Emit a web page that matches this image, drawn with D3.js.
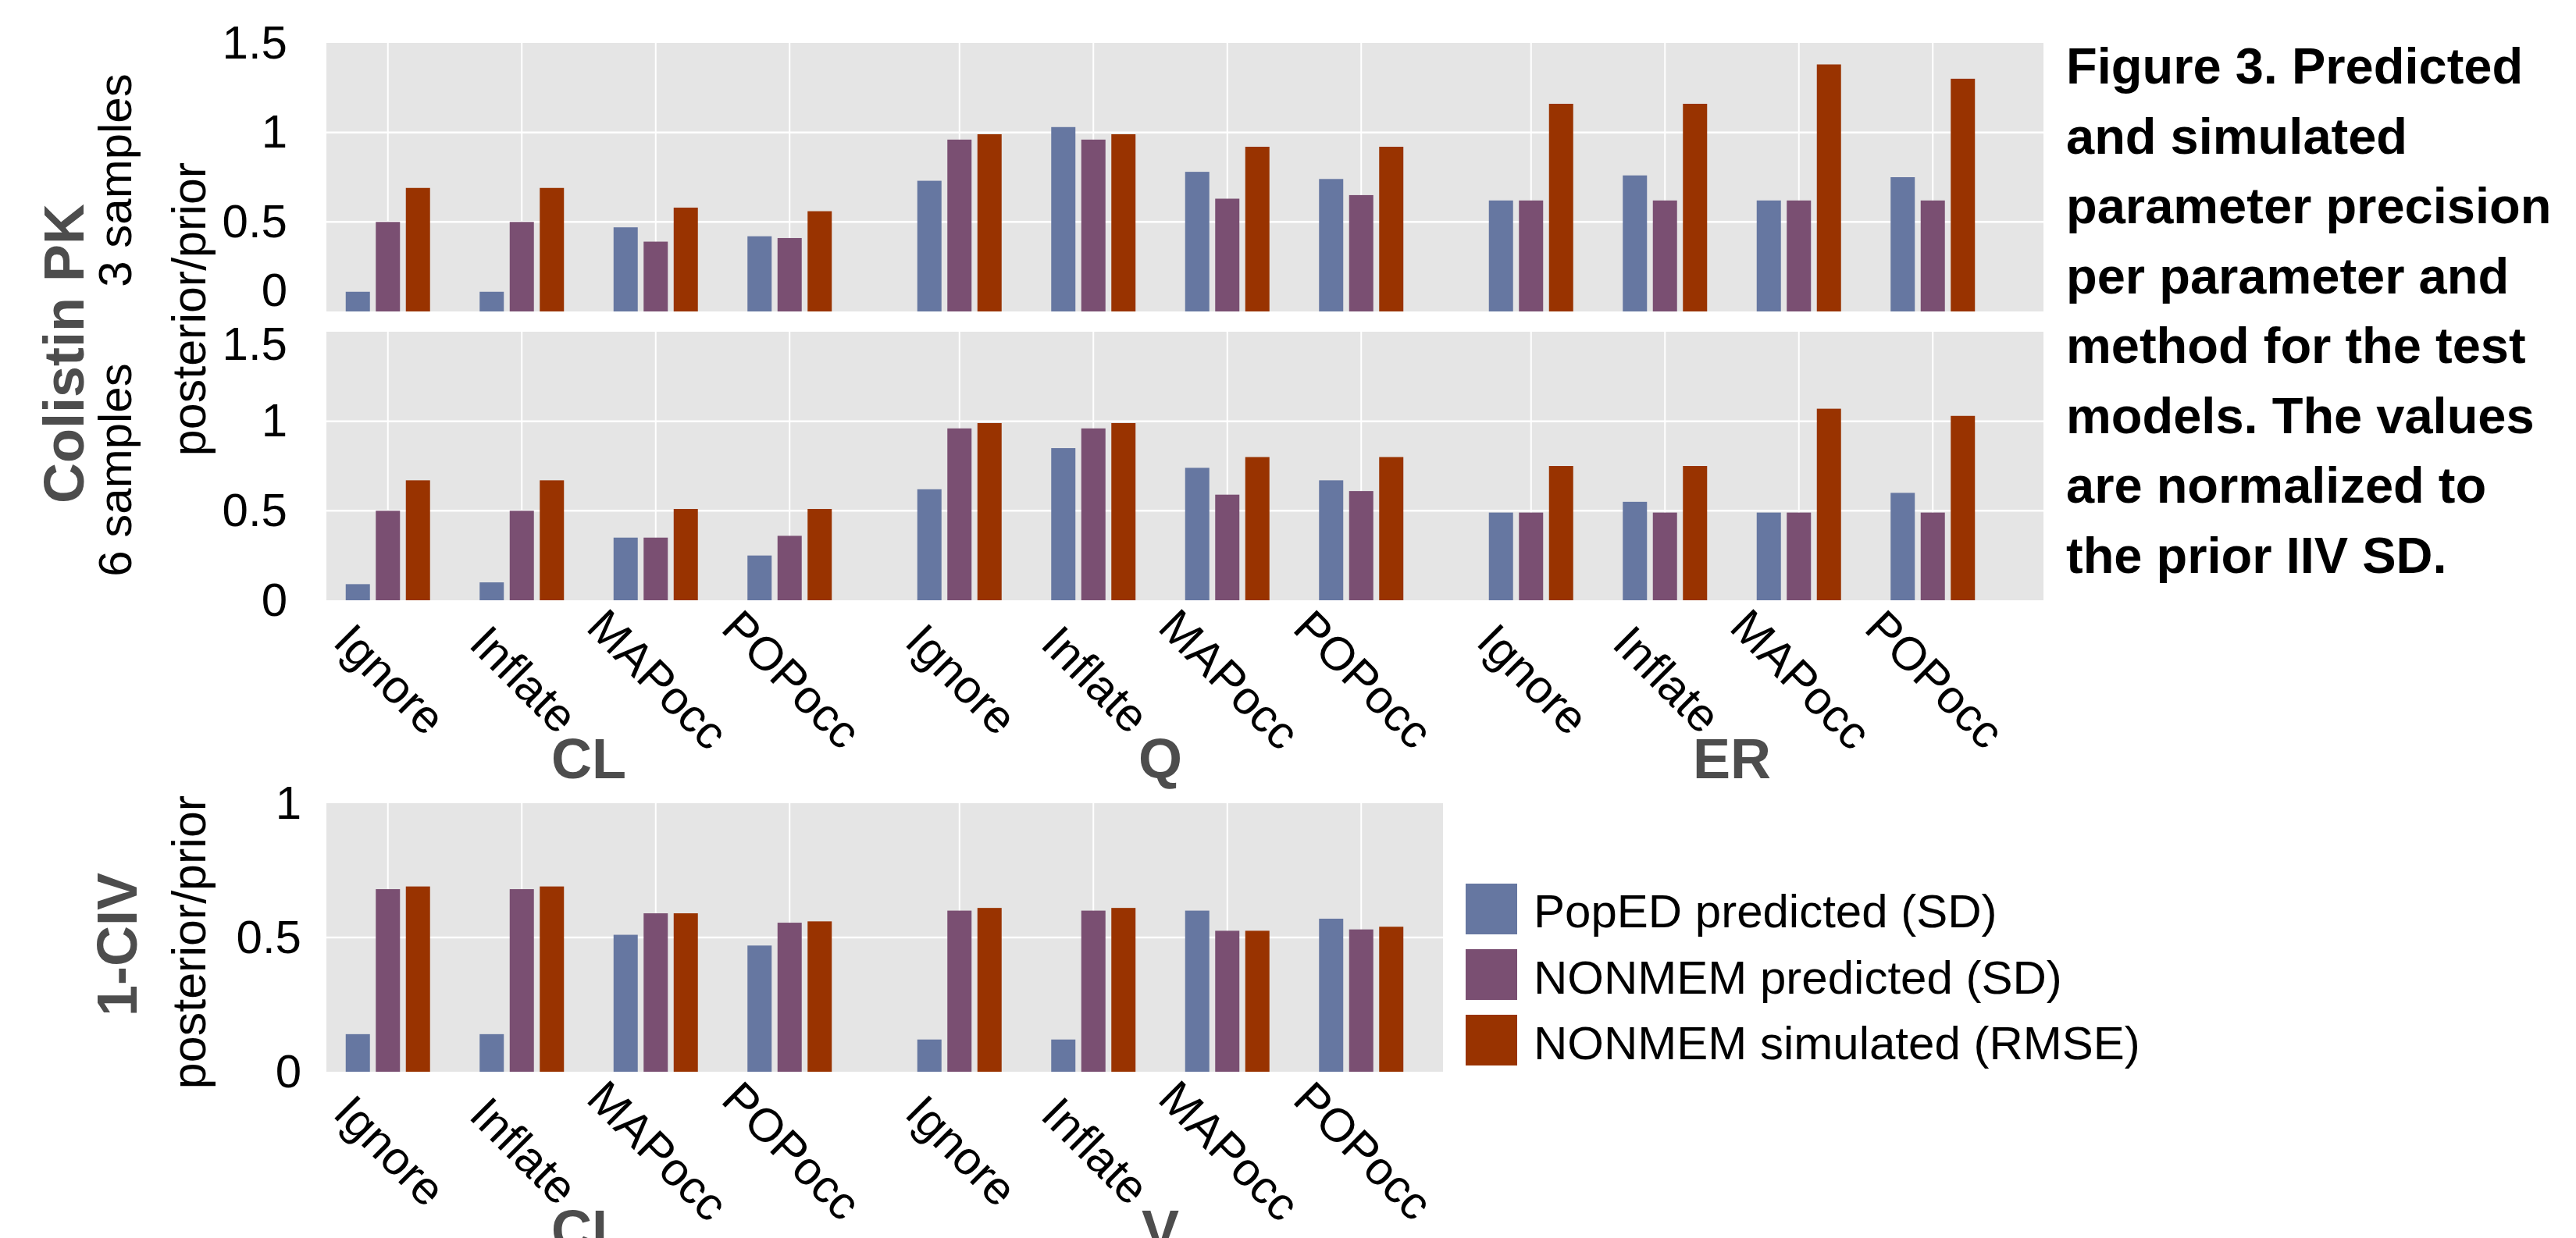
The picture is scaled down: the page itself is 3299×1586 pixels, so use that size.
<!DOCTYPE html>
<html>
<head>
<meta charset="utf-8">
<script src="https://cdn.jsdelivr.net/npm/d3@7"></script>
<style>
  html, body { margin: 0; padding: 0; background: #ffffff; }
  svg { display: block; }
  text { font-family: "Liberation Sans", Arial, sans-serif; }
</style>
</head>
<body>
<svg id="chart" width="3299" height="1586"></svg>
<script>
// ---------------- data ----------------
const methods = ["Ignore", "Inflate", "MAPocc", "POPocc"];
const groupsPK = ["CL", "Q", "ER"];
const groupsCIV = ["CL", "V"];
const seriesNames = ["PopED predicted (SD)", "NONMEM predicted (SD)", "NONMEM simulated (RMSE)"];
const seriesColors = ["#6677a1", "#7a4f72", "#993300"];

// Colistin PK, 3 samples (order: CL x4 methods, Q x4, ER x4)
const pk3PopED   = [0.11, 0.11, 0.47, 0.42, 0.73, 1.03, 0.78, 0.74, 0.62, 0.76, 0.62, 0.75];
const pk3NMPred  = [0.50, 0.50, 0.39, 0.41, 0.96, 0.96, 0.63, 0.65, 0.62, 0.62, 0.62, 0.62];
const pk3NMSim   = [0.69, 0.69, 0.58, 0.56, 0.99, 0.99, 0.92, 0.92, 1.16, 1.16, 1.38, 1.30];

// Colistin PK, 6 samples
const pk6PopED   = [0.09, 0.10, 0.35, 0.25, 0.62, 0.85, 0.74, 0.67, 0.49, 0.55, 0.49, 0.60];
const pk6NMPred  = [0.50, 0.50, 0.35, 0.36, 0.96, 0.96, 0.59, 0.61, 0.49, 0.49, 0.49, 0.49];
const pk6NMSim   = [0.67, 0.67, 0.51, 0.51, 0.99, 0.99, 0.80, 0.80, 0.75, 0.75, 1.07, 1.03];

// 1-CIV (order: CL x4 methods, V x4)
const civPopED   = [0.14, 0.14, 0.51, 0.47, 0.12, 0.12, 0.60, 0.57];
const civNMPred  = [0.68, 0.68, 0.59, 0.555, 0.60, 0.60, 0.525, 0.53];
const civNMSim   = [0.69, 0.69, 0.59, 0.56, 0.61, 0.61, 0.525, 0.54];

const yTicksPK  = [0, 0.5, 1, 1.5];
const yTicksCIV = [0, 0.5, 1];
const yTickLabelsPK  = ["0", "0.5", "1", "1.5"];
const yTickLabelsCIV = ["0", "0.5", "1"];

const captionLines = ["Figure 3. Predicted", "and simulated", "parameter precision",
  "per parameter and", "method for the test", "models. The values",
  "are normalized to", "the prior IIV SD."];

// ---------------- layout ----------------
const svg = d3.select("#chart");
svg.append("rect").attr("width", 3299).attr("height", 1586).attr("fill", "#ffffff");

const FONT = 60;
const GREY = "#4d4d4d";
const panelBG = "#e5e5e5";

const groupBand = 686, groupGap = 46, xStart = 411;

function makeX(groups) {
  const n = groups.length;
  const x0 = d3.scaleBand().domain(groups)
    .range([xStart, xStart + n * groupBand + (n - 1) * groupGap])
    .paddingInner(groupGap / (groupBand + groupGap)).paddingOuter(0);
  const x1 = d3.scaleBand().domain(methods).range([0, x0.bandwidth()]).padding(0);
  const xs = d3.scaleBand().domain(seriesNames).range([-57.75, 57.75])
    .paddingInner(0.195).paddingOuter(0.0975);
  return {x0, x1, xs};
}

function buildRows(groups, arrays) {
  const rows = [];
  groups.forEach((g, gi) => {
    methods.forEach((m, mi) => {
      const idx = gi * methods.length + mi;
      seriesNames.forEach((s, si) => {
        rows.push({group: g, method: m, series: s, si, value: arrays[si][idx]});
      });
    });
  });
  return rows;
}

function drawPanel(opts) {
  const {groups, arrays, y, left, right, ticks, tickLabels, axisX, tickShift} = opts;
  const {x0, x1, xs} = makeX(groups);
  const top = y.range()[1], bottom = y.range()[0];
  const g = svg.append("g");

  g.append("rect").attr("x", left).attr("y", top)
    .attr("width", right - left).attr("height", bottom - top).attr("fill", panelBG);

  // horizontal grid
  g.selectAll("line.hg").data(ticks.filter(t => t > y.domain()[0] && t < y.domain()[1]))
    .enter().append("line")
    .attr("x1", left).attr("x2", right)
    .attr("y1", d => y(d)).attr("y2", d => y(d))
    .attr("stroke", "#ffffff").attr("stroke-width", 2.5);

  // vertical grid
  const cats = [];
  groups.forEach(gr => methods.forEach(m => cats.push({group: gr, method: m})));
  const cx = d => x0(d.group) + x1(d.method) + x1.bandwidth() / 2;
  g.selectAll("line.vg").data(cats).enter().append("line")
    .attr("x1", cx).attr("x2", cx).attr("y1", top).attr("y2", bottom)
    .attr("stroke", "#ffffff").attr("stroke-width", 2);

  // bars
  const rows = buildRows(groups, arrays);
  g.selectAll("rect.bar").data(rows).enter().append("rect")
    .attr("x", d => cx(d) + xs(d.series))
    .attr("width", xs.bandwidth())
    .attr("y", d => y(d.value))
    .attr("height", d => y(0) - y(d.value))
    .attr("fill", d => seriesColors[d.si]);

  // y axis
  const ax = d3.axisLeft(y).tickValues(ticks).tickSize(0).tickPadding(0)
    .tickFormat((d, i) => tickLabels[i]);
  const axg = svg.append("g").attr("transform", `translate(${axisX},0)`).call(ax);
  axg.select(".domain").remove();
  axg.selectAll("text").attr("font-size", FONT).attr("fill", "#000")
    .attr("font-family", '"Liberation Sans", Arial, sans-serif')
    .attr("y", d => (tickShift && tickShift[d] !== undefined) ? tickShift[d] : 0);

  return {cats, cx, x0, bottom};
}

function drawXLabels(p, groups) {
  const g = svg.append("g");
  g.selectAll("text.xl").data(p.cats).enter().append("text")
    .attr("transform", d => `translate(${p.cx(d) - 12},${p.bottom + 116}) rotate(45)`)
    .attr("text-anchor", "middle")
    .attr("font-size", FONT).attr("fill", "#000")
    .text(d => d.method);
  g.selectAll("text.gl").data(groups).enter().append("text")
    .attr("x", d => p.x0(d) + p.x0.bandwidth() / 2)
    .attr("y", p.bottom + 228)
    .attr("text-anchor", "middle")
    .attr("font-size", 72).attr("font-weight", "bold").attr("fill", GREY)
    .text(d => d);
}

// top: 3 samples
const yTop = d3.scaleLinear().domain([0, 1.5]).range([399, 55]);
drawPanel({groups: groupsPK, arrays: [pk3PopED, pk3NMPred, pk3NMSim], y: yTop,
  left: 418, right: 2617, ticks: yTicksPK, tickLabels: yTickLabelsPK, axisX: 368,
  tickShift: {0: -27}});

// middle: 6 samples
const yMid = d3.scaleLinear().domain([0, 1.5]).range([769, 425]);
const pMid = drawPanel({groups: groupsPK, arrays: [pk6PopED, pk6NMPred, pk6NMSim], y: yMid,
  left: 418, right: 2617, ticks: yTicksPK, tickLabels: yTickLabelsPK, axisX: 368,
  tickShift: {1.5: 16}});
drawXLabels(pMid, groupsPK);

// bottom: 1-CIV
const yBot = d3.scaleLinear().domain([0, 1]).range([1373, 1029]);
const pBot = drawPanel({groups: groupsCIV, arrays: [civPopED, civNMPred, civNMSim], y: yBot,
  left: 418, right: 1848, ticks: yTicksCIV, tickLabels: yTickLabelsCIV, axisX: 386});
drawXLabels(pBot, groupsCIV);

// axis titles
function vText(x, y, txt, size, weight, fill) {
  svg.append("text").attr("transform", `translate(${x},${y}) rotate(-90)`)
    .attr("text-anchor", "middle").attr("font-size", size)
    .attr("font-weight", weight).attr("fill", fill).text(txt);
}
vText(107, 453, "Colistin PK", 72, "bold", GREY);
vText(168, 231, "3 samples", FONT, "normal", "#000");
vText(168, 602, "6 samples", FONT, "normal", "#000");
vText(263, 396, "posterior/prior", 61, "normal", "#000");
vText(175, 1210, "1-CIV", 72, "bold", GREY);
vText(263, 1207, "posterior/prior", 61, "normal", "#000");

// legend
const leg = svg.append("g");
seriesNames.forEach((s, i) => {
  leg.append("rect").attr("x", 1877).attr("y", 1132 + i * 84)
    .attr("width", 66).attr("height", 65).attr("fill", seriesColors[i]);
  leg.append("text").attr("x", 1964).attr("y", 1188 + i * 84.5)
    .attr("font-size", FONT).attr("fill", "#000").text(s);
});

// caption
const cap = svg.append("g");
captionLines.forEach((l, i) => {
  cap.append("text").attr("x", 2646).attr("y", 107 + i * 89.5)
    .attr("font-size", 65).attr("font-weight", "bold").attr("fill", "#000").text(l);
});
</script>
</body>
</html>
